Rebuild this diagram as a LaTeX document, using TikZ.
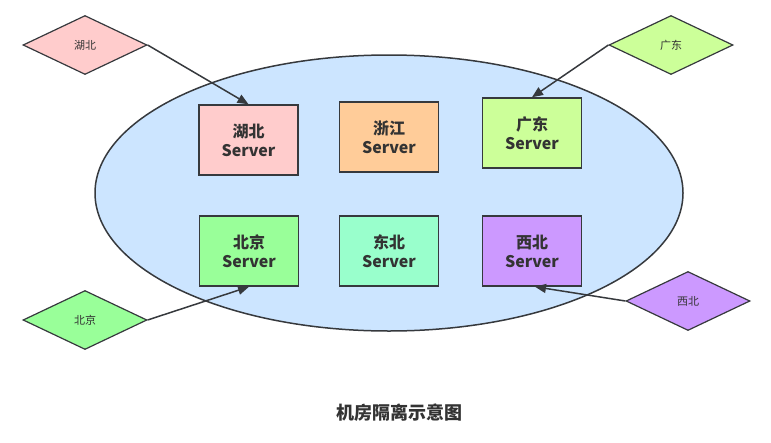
\documentclass[tikz,border=0pt]{standalone}
\usepackage{fontspec}
\setmainfont{Noto Sans CJK SC}
\usetikzlibrary{shapes.geometric,arrows.meta}
\definecolor{edge}{HTML}{36393D}
\definecolor{txt}{HTML}{333333}
\definecolor{oval}{HTML}{CCE5FF}
\definecolor{cHB}{HTML}{FFCCCC}
\definecolor{cZJ}{HTML}{FFCC99}
\definecolor{cGD}{HTML}{CCFF99}
\definecolor{cBJ}{HTML}{99FF99}
\definecolor{cDB}{HTML}{99FFCC}
\definecolor{cXB}{HTML}{CC99FF}
\tikzset{
  server/.style={draw=edge, line width=1.5pt, minimum width=99pt, minimum height=70pt,
    inner sep=0pt, align=center, text=txt, font=\fontsize{16}{19}\selectfont\bfseries},
  region/.style={draw=edge, line width=1.2pt, diamond, minimum width=124pt, minimum height=59pt,
    inner sep=0pt, aspect=2.1, text=txt, font=\fontsize{11}{13}\selectfont},
  link/.style={draw=edge, line width=1.5pt, -{Triangle[length=11pt,width=9pt]}}
}
\begin{document}
\begin{tikzpicture}[x=1pt,y=-1pt]
\useasboundingbox (0,0) rectangle (771,442);
\node[draw=edge, line width=1.5pt, fill=oval, ellipse, minimum width=588pt, minimum height=276pt, inner sep=0pt] (zone) at (389,193) {};
\node[server, fill=cHB] (hb) at (248.5,140) {湖北\\Server};
\node[server, fill=cZJ] (zj) at (389,137) {浙江\\Server};
\node[server, fill=cGD] (gd) at (532,133) {广东\\Server};
\node[server, fill=cBJ] (bj) at (249,251) {北京\\Server};
\node[server, fill=cDB] (db) at (389,251) {东北\\Server};
\node[server, fill=cXB] (xb) at (532,251) {西北\\Server};
\node[region, fill=cHB] (dhb) at (85,45) {湖北};
\node[region, fill=cGD] (dgd) at (671,45) {广东};
\node[region, fill=cBJ] (dbj) at (85,320) {北京};
\node[region, fill=cXB] (dxb) at (688,301) {西北};
\draw[link] (dhb.east) -- (hb.north);
\draw[link] (dgd.west) -- (gd.north);
\draw[link] (dbj.east) -- (bj.south);
\draw[link] (dxb.west) -- ([xshift=3pt]xb.south);
\node[text=txt, font=\fontsize{18}{21}\selectfont\bfseries] (title) at (399.5,413) {机房隔离示意图};
\end{tikzpicture}
\end{document}
